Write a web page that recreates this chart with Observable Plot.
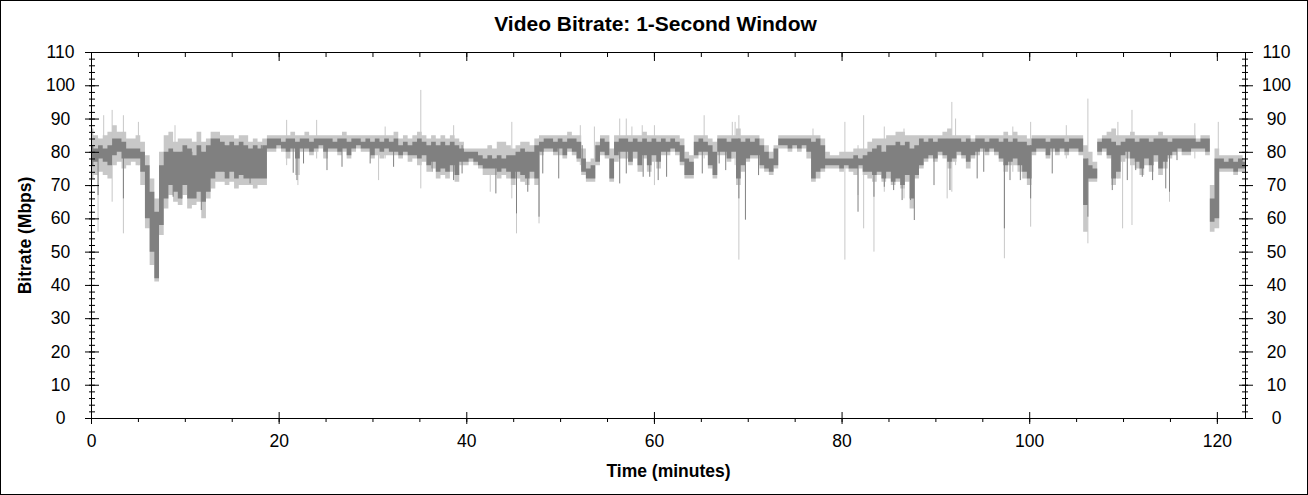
<!DOCTYPE html>
<html>
<head>
<meta charset="utf-8">
<script src="https://cdn.jsdelivr.net/npm/d3@7"></script>
<script src="https://cdn.jsdelivr.net/npm/@observablehq/plot@0.6"></script>
<style>
  body { margin: 0; background: #fff; }
  #chart { position: relative; width: 1308px; height: 495px; }
  #edge { position: absolute; left: 0; top: 0; width: 1308px; height: 495px; box-sizing: border-box; border: 1px solid #000; pointer-events: none; }
</style>
</head>
<body>
<div id="chart"><div id="edge"></div></div>
<script>
// samples every half minute, t = 0 .. 123
const step = 0.5;

const darkHi = [
  82,81,82,81,82,84,84,83,81,81, 81,80,76,68,62,76,80,81,80,80,
  82,81,79,82,80,82,84,84,83,82, 83,82,83,82,81,82,81,82,84,84,
  84,83,84,84,83,84,84,83,84,84, 84,84,83,84,84,83,84,84,83,84,
  83,84,83,84,83,84,82,83,82,83, 84,83,82,83,82,83,82,83,82,81,
  80,80,80,79,78,79,78,79,78,79, 79,80,81,80,80,82,83,84,84,83,
  84,83,84,84,83,78,75,76,82,84, 83,78,83,84,84,83,84,83,84,83,
  84,83,84,83,84,83,82,78,77,83, 84,83,82,80,84,84,83,84,84,83,
  84,83,84,82,80,78,81,84,84,84, 84,84,84,84,83,84,82,78,78,78,
  78,78,78,79,78,79,80,81,82,80, 82,82,83,82,83,81,82,84,83,84,
  83,84,84,84,84,84,83,84,83,84, 84,83,84,84,83,84,83,84,83,83,
  82,84,84,84,83,84,84,84,83,84, 84,84,78,76,75,83,84,84,83,82,
  83,84,84,83,84,84,83,84,84,84, 83,84,84,84,84,84,83,84,84,66,
  78,78,77,78,77,78,77
];
const darkLo = [
  76,77,78,77,76,79,80,78,78,78, 78,74,60,50,42,58,66,70,68,66,
  70,66,66,68,65,68,72,74,74,72, 74,72,73,72,72,72,72,72,81,81,
  82,81,80,81,78,81,81,80,81,82, 80,81,81,80,81,79,81,82,81,81,
  79,81,80,81,80,80,79,80,79,79, 78,79,76,77,74,75,74,76,73,77,
  77,78,77,76,75,75,75,74,75,74, 72,74,73,72,74,72,80,81,81,80,
  81,79,81,80,78,74,72,72,77,80, 79,72,79,80,80,77,80,76,79,76,
  79,77,80,80,81,80,77,73,73,79, 80,80,76,73,80,80,78,80,72,76,
  78,79,79,76,75,74,76,82,82,81, 82,81,82,80,72,74,75,76,76,76,
  75,76,75,75,76,74,74,73,74,72, 74,71,72,70,73,66,73,76,78,79,
  78,80,79,77,78,80,79,77,79,80, 81,80,81,80,78,76,77,78,76,74,
  72,80,81,81,79,81,80,81,80,81, 81,80,64,72,72,80,81,79,72,74,
  79,80,78,77,75,78,76,79,75,77, 79,80,81,80,80,81,81,81,80,59,
  60,75,75,75,74,75,75
];
const lightHi = [
  87,85,84,85,86,88,86,86,84,84, 85,83,79,72,66,80,85,86,83,84,
  84,84,83,86,83,84,86,86,85,85, 85,84,85,85,83,84,83,84,85,85,
  85,85,85,86,85,85,86,85,85,85, 85,85,85,85,86,85,85,85,85,85,
  85,85,85,85,85,86,84,85,84,85, 86,85,84,85,84,85,84,85,84,83,
  81,81,81,81,81,82,81,83,83,82, 81,82,83,83,82,84,85,85,85,85,
  85,85,86,85,85,81,77,78,83,85, 85,81,85,85,85,85,85,85,86,85,
  85,85,85,85,85,85,84,80,79,85, 85,85,84,83,85,85,85,85,87,85,
  85,85,85,84,82,80,82,85,85,85, 85,85,85,85,85,85,84,80,79,79,
  80,80,80,81,81,81,83,84,84,84, 85,85,86,86,85,85,85,85,85,85,
  85,85,86,87,85,85,85,85,84,85, 85,85,85,85,85,86,85,86,85,85,
  84,85,85,85,85,85,85,85,85,85, 85,85,82,80,77,84,85,86,87,85,
  85,85,86,85,85,85,85,85,86,85, 85,85,85,85,85,85,84,85,85,70,
  81,79,79,79,79,79,78
];
const lightLo = [
  72,73,74,73,72,76,77,75,76,77, 76,70,57,46,41,55,63,67,65,64,
  67,63,64,65,60,66,69,71,71,70, 71,69,70,70,70,69,70,70,80,80,
  81,80,78,80,73,80,80,79,80,81, 78,80,80,79,80,78,80,81,80,80,
  78,79,78,79,79,79,78,79,77,78, 76,77,74,75,72,73,72,74,71,76,
  76,77,76,75,73,73,73,72,73,72, 70,72,71,70,72,70,79,80,80,79,
  79,78,80,79,77,73,71,71,76,79, 78,71,77,78,78,76,78,74,78,74,
  77,75,79,79,80,79,76,72,72,78, 79,79,75,72,79,79,77,78,70,74,
  77,78,78,75,74,73,75,81,81,80, 81,80,81,78,71,72,74,75,75,75,
  74,75,74,73,75,73,72,71,73,71, 72,70,71,69,71,63,72,75,77,78,
  77,79,78,75,77,79,78,75,78,79, 80,79,80,79,77,74,76,76,74,72,
  70,79,80,80,78,80,79,80,79,80, 80,79,56,71,71,79,80,78,70,72,
  77,78,76,75,73,76,74,77,73,75, 78,79,80,79,79,80,80,80,79,56,
  57,74,74,74,73,74,74
];

// thin one-second outliers, light gray
const spikeTime = [0.7, 1.3, 2.2, 3.4, 5.0, 8.9, 11.9, 20.8, 22.0, 24.0, 30.6, 31.3, 35.1, 38.6, 42.5, 44.8, 45.3, 47.7, 52.1, 53.6, 56.3, 57.0, 57.6, 58.7, 60.0, 65.3, 68.3, 68.6, 69.0, 76.9, 80.3, 81.7, 82.3, 83.4, 84.5, 86.6, 91.2, 91.7, 92.1, 97.3, 98.2, 100.1, 103.9, 106.2, 109.4, 109.9, 110.9, 114.9, 117.6, 120.1];
const spikeLow  = [56, 80, 65, 55.5, 76, 74, 60.5, 76, 70, 78, 71.5, 78, 69, 72, 68, 66, 55.5, 58.5, 76, 74, 78, 78, 78, 74, 70, 78, 78, 76, 47.6, 78, 47.6, 67, 57, 50, 68, 66, 66, 68, 76, 48, 74, 57.5, 78, 52.5, 72, 57, 58, 65, 78, 76];
const spikeHigh = [84, 91, 92.6, 91, 89, 88, 82, 89.6, 84, 89.6, 84, 87.6, 98.6, 88, 82, 89, 80, 84, 88, 87.6, 90, 90, 87.6, 88, 88, 91, 89, 89, 91, 87, 89, 82, 91, 82, 87.6, 87, 84, 95, 90, 84, 87.6, 89, 88, 96, 89, 84, 92.6, 84, 88.6, 89];

// thin one-second dips, dark gray
const darkSpikeTime = [0.7, 3.4, 8.7, 9.6, 10.7, 11.7, 14.2, 16.0, 16.9, 18.1, 21.5, 21.9, 22.6, 25.1, 26.7, 29.7, 32.2, 36.3, 38.6, 39.5, 43.1, 45.3, 46.5, 47.7, 48.1, 49.8, 52.3, 56.3, 57.0, 58.8, 59.5, 60.4, 61.3, 65.1, 66.9, 67.6, 69.0, 69.7, 71.1, 81.7, 83.4, 84.5, 85.5, 86.4, 87.3, 87.7, 89.8, 91.5, 94.4, 95.1, 97.3, 97.9, 99.0, 100.1, 102.4, 106.2, 108.8, 110.4, 111.3, 112.0, 113.1, 114.5, 114.9, 115.7];
const darkSpikeLow  = [67, 66, 66.5, 66, 67, 62.5, 74, 73.5, 70.5, 73.5, 73.7, 71.5, 76.5, 74.5, 75.5, 76.5, 75.5, 74, 71.5, 73.5, 67.5, 61.5, 68, 60.5, 73.5, 72, 74.5, 70.5, 73.5, 72.5, 72.5, 71.5, 72.5, 73.5, 76.5, 74.5, 66, 59.6, 73, 62, 66.5, 69.5, 68.5, 65.5, 65.5, 59.5, 70, 68.5, 72, 74, 57, 71.5, 71.5, 66, 73.5, 60.5, 68.5, 71.5, 74.5, 72.5, 71.5, 69, 68, 77.5];
const darkSpikeHigh = [80, 82, 80, 80, 80, 80, 82, 82, 80, 82, 82, 82, 82, 82, 82, 82, 82, 82, 82, 82, 78, 78, 80, 80, 82, 82, 82, 82, 82, 82, 82, 82, 82, 82, 82, 82, 84, 82, 82, 78, 80, 80, 80, 80, 80, 80, 82, 82, 82, 82, 82, 82, 82, 82, 82, 78, 82, 82, 82, 82, 82, 82, 82, 82];

const yMajor = d3.range(0, 111, 10);
const yMinor = d3.range(0, 111, 2);
const xMajor = [0, 20, 40, 60, 80, 100, 120];
const xMinor = d3.range(0, 124, 5);

const band = darkHi.map((v, i) => ({
  t: i * step, dHi: v, dLo: darkLo[i], lHi: lightHi[i], lLo: lightLo[i]
}));
const spikes = spikeTime.map((t, i) => ({t, lo: spikeLow[i], hi: spikeHigh[i]}));
const darkSpikes = darkSpikeTime.map((t, i) => ({t, lo: darkSpikeLow[i], hi: darkSpikeHigh[i]}));

const lightGray = "#c8c8c8";
const darkGray = "#808080";

const plot = Plot.plot({
  width: 1308,
  height: 495,
  marginTop: 52,
  marginRight: 63,
  marginBottom: 77,
  marginLeft: 91,
  style: {fontFamily: "'Liberation Sans', Arial, sans-serif", fontSize: "17.5px", color: "#000", background: "transparent"},
  x: {domain: [0, 123]},
  y: {domain: [0, 110]},
  marks: [
    Plot.areaY(band, {x: "t", y1: "lLo", y2: "lHi", fill: lightGray, curve: "step"}),
    Plot.ruleX(spikes, {x: "t", y1: "lo", y2: "hi", stroke: lightGray, strokeWidth: 1}),
    Plot.areaY(band, {x: "t", y1: "dLo", y2: "dHi", fill: darkGray, curve: "step"}),
    Plot.ruleX(darkSpikes, {x: "t", y1: "lo", y2: "hi", stroke: darkGray, strokeWidth: 1}),
    Plot.frame({stroke: "#000"}),

    // left axis
    Plot.axisY({anchor: "left", ticks: yMinor, tickSize: 6, dx: 4, fill: "none", label: null}),
    Plot.axisY({anchor: "left", ticks: yMajor, tickSize: 14, dx: 8, fill: "none", label: null}),
    Plot.axisY({anchor: "left", ticks: yMajor, tickSize: 0, tickPadding: 31, textAnchor: "middle", label: null}),
    // right axis
    Plot.axisY({anchor: "right", ticks: yMinor, tickSize: 6, dx: -4, fill: "none", label: null}),
    Plot.axisY({anchor: "right", ticks: yMajor, tickSize: 14, dx: -7, fill: "none", label: null}),
    Plot.axisY({anchor: "right", ticks: yMajor, tickSize: 0, tickPadding: 31, textAnchor: "middle", label: null}),
    // bottom axis
    Plot.axisX({anchor: "bottom", ticks: xMinor, tickSize: 4, fill: "none", label: null}),
    Plot.axisX({anchor: "bottom", ticks: xMajor, tickSize: 12, dy: -6, fill: "none", label: null}),
    Plot.axisX({anchor: "bottom", ticks: xMajor, tickSize: 0, tickPadding: 16, label: null}),
    // top axis (ticks only, pointing inward)
    Plot.axisX({anchor: "top", ticks: xMinor, tickSize: 4, dy: 4, fill: "none", label: null}),
    Plot.axisX({anchor: "top", ticks: xMajor, tickSize: 8, dy: 8, fill: "none", label: null}),

    Plot.text(["Video Bitrate: 1-Second Window"], {frameAnchor: "top", dy: -28, dx: -13, fontSize: 21, fontWeight: "bold", textAnchor: "middle", lineAnchor: "middle"}),
    Plot.text(["Time (minutes)"], {frameAnchor: "bottom", dy: 53, fontSize: 17.5, fontWeight: "bold", textAnchor: "middle", lineAnchor: "middle"}),
    Plot.text(["Bitrate (Mbps)"], {frameAnchor: "left", dx: -66.5, rotate: -90, fontSize: 17.5, fontWeight: "bold", textAnchor: "middle", lineAnchor: "middle"})
  ]
});

document.querySelector("#chart").appendChild(plot);
</script>
</body>
</html>
